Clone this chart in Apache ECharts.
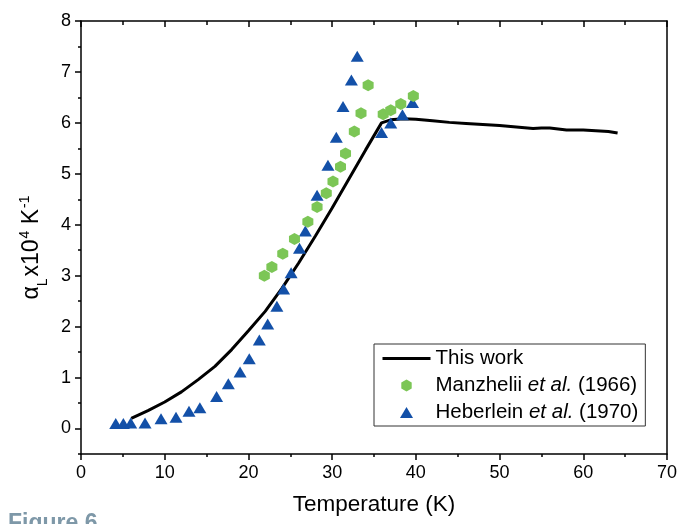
<!DOCTYPE html>
<html>
<head>
<meta charset="utf-8">
<title>Thermal expansion</title>
<script src="https://cdn.jsdelivr.net/npm/echarts@6/dist/echarts.min.js"></script>
<style>
  html, body { margin: 0; padding: 0; background: #fff; }
  #chart { width: 680px; height: 524px; }
</style>
</head>
<body>
<div id="chart"></div>
<script>
// This work (calculated curve)
const workT = [6, 8, 10, 12, 14, 16, 18, 20, 22, 24, 26, 28, 30, 32, 34, 35.9, 37, 38.5, 40, 42, 44, 46, 48, 50, 52, 54, 55, 56, 57, 58, 60, 62, 63, 64.1]
const workA = [0.20, 0.35, 0.52, 0.72, 0.96, 1.22, 1.55, 1.92, 2.30, 2.75, 3.25, 3.78, 4.33, 4.90, 5.47, 6.00, 6.06, 6.08, 6.07, 6.04, 6.01, 5.99, 5.97, 5.95, 5.92, 5.89, 5.90, 5.90, 5.88, 5.86, 5.86, 5.84, 5.83, 5.80]

// Manzhelii et al. (1966)
const manzT = [21.9, 22.8, 24.1, 25.5, 27.1, 28.2, 29.3, 30.1, 31.0, 31.6, 32.65, 33.45, 34.3, 36.1, 37.0, 38.2, 39.7]
const manzA = [3.00, 3.17, 3.43, 3.72, 4.06, 4.35, 4.62, 4.85, 5.14, 5.40, 5.83, 6.19, 6.74, 6.17, 6.25, 6.37, 6.53]

// Heberlein et al. (1970)
const hebT = [4.15, 5.06, 5.94, 7.65, 9.56, 11.35, 12.9, 14.2, 16.2, 17.6, 19.0, 20.1, 21.3, 22.3, 23.4, 24.2, 25.1, 26.1, 26.8, 28.2, 29.5, 30.5, 31.3, 32.3, 33.0, 35.9, 37.0, 38.4, 39.6]
const hebA = [0.10, 0.10, 0.11, 0.11, 0.19, 0.22, 0.34, 0.41, 0.63, 0.88, 1.11, 1.37, 1.74, 2.05, 2.40, 2.74, 3.06, 3.54, 3.88, 4.58, 5.17, 5.72, 6.32, 6.84, 7.31, 5.81, 6.00, 6.16, 6.40]

// y tick labels
const yLabels = [0, 1, 2, 3, 4, 5, 6, 7, 8]

const FONT = 'Liberation Sans, Arial, sans-serif'
const hexagon = 'path://M0,-1L0.866,-0.5L0.866,0.5L0,1L-0.866,0.5L-0.866,-0.5Z'
// legend icons: padded with bare moves so the 48x12 icon box is not stretched
const hexIcon = 'path://M0,0M48,12M24,0L29.2,3L29.2,9L24,12L18.8,9L18.8,3Z'
const triIcon = 'path://M0,0M48,12M24,0.5L30.5,11.5L17.5,11.5Z'

const zip = (xs, ys) => xs.map((x, i) => [x, ys[i]])

const chart = echarts.init(document.getElementById('chart'), null, { renderer: 'canvas' })

// shared axis pieces
const axisLine = { show: true, onZero: false, lineStyle: { color: '#000', width: 1.5 } }
const tickStyle = { color: '#000', width: 1.5 }

const option = {
  animation: false,
  title: {
    text: 'Figure 6',
    left: 3,
    top: 507,
    textStyle: { fontFamily: FONT, fontSize: 23, fontWeight: 'bold', color: '#7E98A8' }
  },
  grid: { left: 81, right: 13, top: 21, bottom: 70 },
  legend: {
    orient: 'vertical',
    left: 374,
    top: 344,
    padding: [4, 7, 3, 7],
    itemWidth: 48,
    itemHeight: 12,
    itemGap: 6,
    borderColor: '#333',
    borderWidth: 1,
    textStyle: {
      fontFamily: FONT,
      fontSize: 20.5,
      color: '#000',
      rich: {
        i: { fontFamily: FONT, fontSize: 20.5, fontStyle: 'italic', color: '#000' }
      }
    },
    formatter: name => name.replace('et al.', '{i|et al.}'),
    data: [
      { name: 'This work', itemStyle: { color: 'rgba(0,0,0,0)', borderWidth: 0 }, lineStyle: { color: '#000', width: 3 } },
      { name: 'Manzhelii et al. (1966)', icon: hexIcon },
      { name: 'Heberlein et al. (1970)', icon: triIcon }
    ]
  },
  xAxis: [
    {
      type: 'value',
      min: 0,
      max: 70,
      interval: 10,
      name: 'Temperature (K)',
      nameLocation: 'middle',
      nameGap: 39,
      nameTextStyle: { fontFamily: FONT, fontSize: 22.5, color: '#000' },
      axisLine: axisLine,
      axisTick: { show: true, inside: false, length: 6, lineStyle: tickStyle },
      minorTick: { show: true, splitNumber: 2, length: 3, lineStyle: tickStyle },
      axisLabel: { fontFamily: FONT, fontSize: 18, color: '#000', margin: 10 },
      splitLine: { show: false }
    },
    {
      type: 'value',
      position: 'top',
      min: 0,
      max: 70,
      interval: 10,
      axisLine: axisLine,
      axisTick: { show: true, inside: true, length: 6, lineStyle: tickStyle },
      minorTick: { show: true, splitNumber: 2, length: 4, lineStyle: tickStyle },
      axisLabel: { show: false },
      splitLine: { show: false }
    }
  ],
  yAxis: [
    {
      // half-unit ticks, labels on whole numbers only
      type: 'value',
      min: -0.5,
      max: 8,
      interval: 0.5,
      axisLabel: {
        fontFamily: FONT,
        fontSize: 18,
        color: '#000',
        margin: 10,
        formatter: v => (Number.isInteger(v) ? v : '')
      },
      name: '{a|α}{sub|L}{a|x10}{sup|4}{a| K}{sup|-1}',
      nameLocation: 'middle',
      nameGap: 33,
      nameRotate: 90,
      nameTextStyle: {
        padding: [0, 20, 0, 0],
        rich: {
          a: { fontFamily: FONT, fontSize: 23, color: '#000', lineHeight: 28 },
          sub: { fontFamily: FONT, fontSize: 14, color: '#000', verticalAlign: 'bottom', lineHeight: 14, padding: [0, 2, -4, 0] },
          sup: { fontFamily: FONT, fontSize: 14, color: '#000', verticalAlign: 'top', lineHeight: 14, padding: [0, 0, 0, 1] }
        }
      },
      axisLine: axisLine,
      axisTick: { show: true, inside: false, length: 3, lineStyle: tickStyle },
      splitLine: { show: false }
    },
    {
      // longer ticks at the whole numbers
      type: 'value',
      position: 'left',
      min: -0.5,
      max: 8,
      interval: 0.5,
      axisLine: { show: false },
      axisTick: { show: true, inside: false, length: 6, lineStyle: tickStyle, customValues: yLabels },
      axisLabel: { show: false },
      splitLine: { show: false }
    },
    {
      type: 'value',
      position: 'right',
      min: -0.5,
      max: 8,
      interval: 0.5,
      axisLine: axisLine,
      axisTick: { show: false },
      axisLabel: { show: false },
      splitLine: { show: false }
    }
  ],
  series: [
    {
      name: 'This work',
      type: 'line',
      data: zip(workT, workA),
      symbol: 'none',
      lineStyle: { color: '#000', width: 3 },
      itemStyle: { color: '#000' },
      z: 2
    },
    {
      name: 'Heberlein et al. (1970)',
      type: 'scatter',
      data: zip(hebT, hebA),
      symbol: 'triangle',
      symbolSize: [13, 11],
      itemStyle: { color: '#1350A8', opacity: 1 },
      z: 3
    },
    {
      name: 'Manzhelii et al. (1966)',
      type: 'scatter',
      data: zip(manzT, manzA),
      symbol: hexagon,
      symbolSize: [11, 12],
      itemStyle: { color: '#7CC656', opacity: 1 },
      z: 4
    }
  ]
}

chart.setOption(option)
</script>
</body>
</html>
